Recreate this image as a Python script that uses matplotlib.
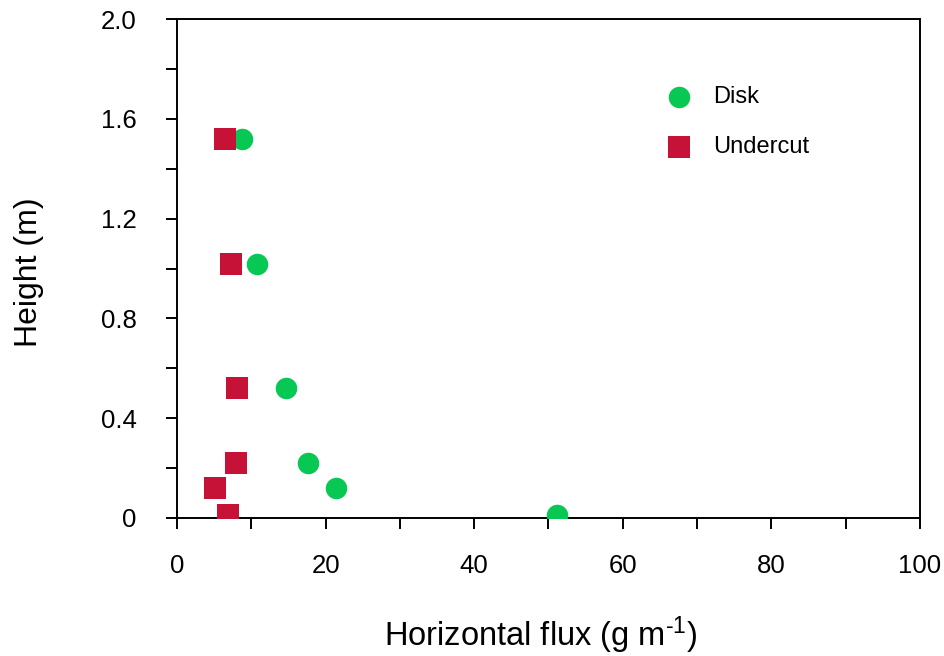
import matplotlib
matplotlib.use("Agg")
import matplotlib.pyplot as plt
from matplotlib.ticker import MultipleLocator

plt.rcParams['font.family'] = ['Liberation Sans', 'DejaVu Sans']
plt.rcParams['mathtext.fontset'] = 'custom'
plt.rcParams['mathtext.rm'] = 'Liberation Sans'
plt.rcParams['mathtext.it'] = 'Liberation Sans:italic'
plt.rcParams['mathtext.bf'] = 'Liberation Sans:bold'

disk_flux = [8.8, 10.8, 14.7, 17.6, 21.4, 51.1]
disk_height = [1.52, 1.02, 0.52, 0.22, 0.12, 0.01]
under_flux = [6.5, 7.3, 8.1, 7.9, 5.1, 6.9]
under_height = [1.52, 1.02, 0.52, 0.22, 0.12, 0.01]
x_ticks = [0, 20, 40, 60, 80, 100]
y_ticks = [0, 0.4, 0.8, 1.2, 1.6, 2.0]
y_tick_labels = ['0', '0.4', '0.8', '1.2', '1.6', '2.0']

green = '#08C854'
red = '#C51236'

fig = plt.figure(figsize=(9.45, 6.56), dpi=100)
ax = fig.add_axes([0.1873, 0.2104, 0.7862, 0.7606])

ax.scatter(disk_flux, disk_height, s=240, marker='o', color=green, label='Disk', zorder=3, linewidths=0)
ax.scatter(under_flux, under_height, s=245, marker='s', color=red, label='Undercut', zorder=3, linewidths=0)

ax.set_xlim(0, 100)
ax.set_ylim(0, 2.0)
ax.set_xticks(x_ticks)
ax.set_xticklabels([str(v) for v in x_ticks])
ax.set_yticks(y_ticks)
ax.set_yticklabels(y_tick_labels)
ax.xaxis.set_minor_locator(MultipleLocator(10))
ax.yaxis.set_minor_locator(MultipleLocator(0.2))

ax.tick_params(which='both', direction='out', width=1.4, labelsize=18.5)
ax.tick_params(which='both', length=8)
ax.tick_params(axis='x', which='major', pad=18)
ax.tick_params(axis='y', which='major', pad=21)
for s in ax.spines.values():
    s.set_linewidth(1.4)

ax.set_xlabel(r'Horizontal flux (g m$^{\text{-1}}$)', fontsize=23.5)
ax.set_ylabel('Height (m)', fontsize=23)
ax.xaxis.set_label_coords(0.49, -0.194)
ax.yaxis.set_label_coords(-0.179, 0.493)

ax.legend(loc='upper left', bbox_to_anchor=(0.631, 0.884), frameon=False, fontsize=17,
          labelspacing=1.19, handletextpad=0.43, scatterpoints=1, borderaxespad=0)

fig.savefig('out.png', dpi=100)
